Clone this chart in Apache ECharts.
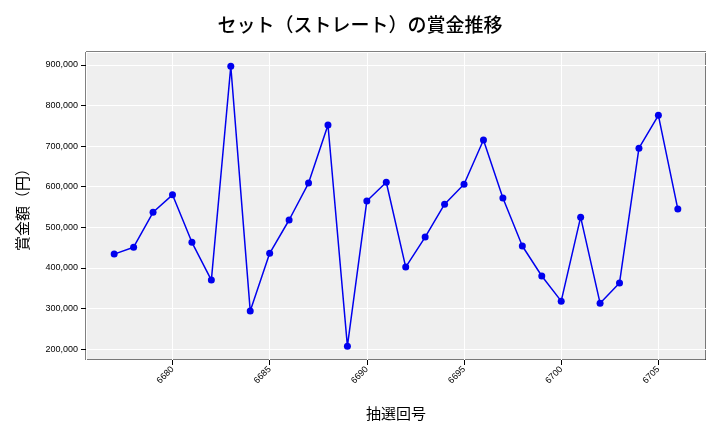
<!DOCTYPE html>
<html>
<head>
<meta charset="utf-8">
<script src="https://cdn.jsdelivr.net/npm/echarts@6/dist/echarts.min.js"></script>
<style>html,body{margin:0;padding:0;background:#fff}#main{width:720px;height:432px}</style>
</head>
<body>
<div id="main"></div>
<script>
var draws = [6677,6678,6679,6680,6681,6682,6683,6684,6685,6686,6687,6688,6689,6690,6691,6692,6693,6694,6695,6696,6697,6698,6699,6700,6701,6702,6703,6704,6705,6706];
var prizes = [434000,451000,537000,580000,463000,370000,897000,294000,436000,518000,609000,752000,207000,565000,611000,402000,476000,557000,606000,715000,572000,454000,380000,318000,525000,313000,363000,695000,776000,545000];

var pts = [];
for (var i = 0; i < draws.length; i++) {
	pts.push([draws[i], prizes[i]]);
}

var font = '"Noto Sans CJK JP", sans-serif';
var chart = echarts.init(document.getElementById('main'));
chart.setOption({
	animation: false,
	title: {
		text: 'セット（ストレート）の賞金推移',
		left: 'center', top: 10,
		textStyle: {fontFamily: font, fontSize: 19, fontWeight: 500, color: '#000'}
	},
	grid: {left: 86, right: 14, top: 52, bottom: 72, backgroundColor: '#efefef', show: true, borderColor: '#000', borderWidth: 1},
	xAxis: {
		type: 'value',
		min: 6675.55, max: 6707.45,
		splitNumber: 6,
		name: '抽選回号', nameLocation: 'middle', nameGap: 46,
		nameTextStyle: {fontFamily: font, fontSize: 15, color: '#000'},
		axisLine: {show: false},
		axisTick: {show: true, lineStyle: {color: '#000'}},
		axisLabel: {rotate: 45, fontSize: 9, color: '#000', showMinLabel: false, showMaxLabel: false,
			formatter: function (v) { return String(v); }},
		splitLine: {show: true, lineStyle: {color: '#fff', width: 1}}
	},
	yAxis: {
		type: 'value',
		min: 173000, max: 932000,
		splitNumber: 8,
		name: '賞金額（円）', nameLocation: 'middle', nameGap: 56,
		nameTextStyle: {fontFamily: font, fontSize: 15, color: '#000'},
		axisLine: {show: false},
		axisTick: {show: true, lineStyle: {color: '#000'}},
		axisLabel: {fontSize: 9, color: '#000', showMinLabel: false, showMaxLabel: false,
			formatter: function (v) { return v.toLocaleString('en-US'); }},
		splitLine: {show: true, lineStyle: {color: '#fff', width: 1}}
	},
	series: [{
		type: 'line',
		data: pts,
		symbol: 'circle', symbolSize: 7,
		lineStyle: {color: '#0000ee', width: 1.5},
		itemStyle: {color: '#0000ee'}
	}]
});
</script>
</body>
</html>
